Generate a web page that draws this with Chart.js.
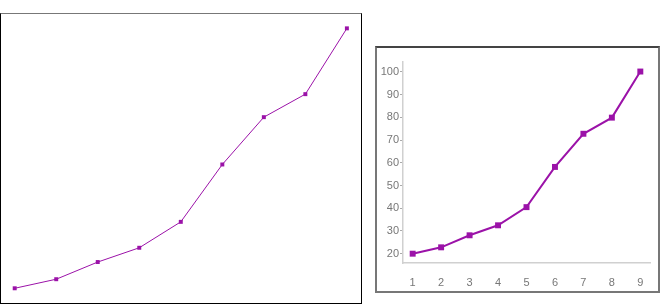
<!DOCTYPE html>
<html>
<head>
<meta charset="utf-8">
<script src="https://cdn.jsdelivr.net/npm/chart.js@4"></script>
<style>
body{margin:0;background:#fff;width:668px;height:306px;overflow:hidden;position:relative;}
#caja1{position:absolute;left:0;top:13px;width:360px;height:289px;border:1px solid #000;border-top-color:#777;}
#caja2{position:absolute;left:375px;top:46px;width:281px;height:243px;border:2px solid #777;border-top-color:#444;}
canvas{display:block;}
</style>
</head>
<body>
<div id="caja1"><canvas id="grafico1" width="360" height="289"></canvas></div>
<div id="caja2"><canvas id="grafico2" width="281" height="243"></canvas></div>
<script>
const puntosX=[1,2,3,4,5,6,7,8,9];
const valores=[20,22.8,28.1,32.5,40.5,58.2,72.8,79.9,100.2];
const ticksY=[20,30,40,50,60,70,80,90,100];
const color='#9b12a8';

const armarDatos = () =>{
    return puntosX.map((x,i) => ({x:x,y:valores[i]}));
}

// grafico sin ejes (izquierda)
new Chart(document.getElementById('grafico1'),{
    type:'line',
    data:{
        datasets:[{
            data:armarDatos(),
            borderColor:color,
            backgroundColor:color,
            borderWidth:1,
            pointStyle:'rect',
            pointRadius:2.8,
            pointBorderWidth:0
        }]
    },
    options:{
        responsive:false,
        animation:false,
        layout:{padding:0,autoPadding:false},
        plugins:{legend:{display:false},tooltip:{enabled:false}},
        scales:{
            x:{type:'linear',display:false,min:0.67,max:9.34},
            y:{display:false,min:15.46,max:104.63}
        }
    }
});

// grafico con ejes (derecha)
new Chart(document.getElementById('grafico2'),{
    type:'line',
    data:{
        datasets:[{
            data:armarDatos(),
            borderColor:color,
            backgroundColor:color,
            borderWidth:2,
            pointStyle:'rect',
            pointRadius:4.2,
            pointBorderWidth:0
        }]
    },
    options:{
        responsive:false,
        animation:false,
        layout:{padding:{top:14,right:8,left:0,bottom:0},autoPadding:false},
        plugins:{legend:{display:false},tooltip:{enabled:false}},
        scales:{
            x:{
                type:'linear',
                min:0.66,max:9.34,
                afterBuildTicks:(eje)=>{eje.ticks=puntosX.map(v=>({value:v}));},
                afterFit:(eje)=>{eje.height=28;},
                grid:{display:false},
                border:{display:true,color:'#d0d0d0',width:1.5},
                ticks:{color:'#777',padding:5,font:{family:'Liberation Sans',size:11}}
            },
            y:{
                min:15.9,max:104.4,
                afterBuildTicks:(eje)=>{eje.ticks=ticksY.map(v=>({value:v}));},
                afterFit:(eje)=>{eje.width=26;},
                grid:{drawOnChartArea:false,tickLength:3,tickColor:'#aaa'},
                border:{display:true,color:'#d0d0d0',width:1.5},
                ticks:{color:'#777',padding:1,font:{family:'Liberation Sans',size:11}}
            }
        }
    }
});
</script>
</body>
</html>
